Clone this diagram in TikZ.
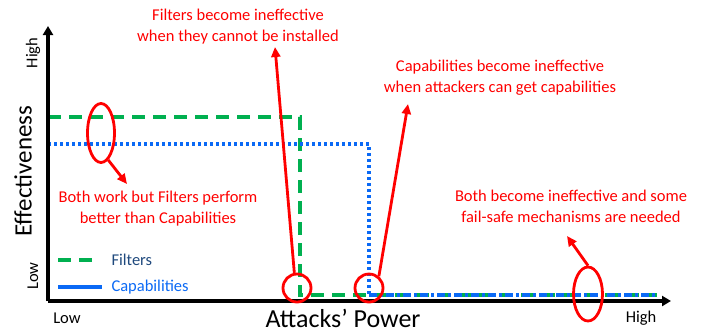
\documentclass[tikz,border=0pt]{standalone}
\usepackage{fontspec}
\setmainfont{Carlito}
\usetikzlibrary{arrows.meta,shapes.geometric}
\definecolor{fgreen}{RGB}{0,176,80}
\definecolor{cblue}{RGB}{10,105,245}
\definecolor{lblue}{RGB}{31,73,125}
\tikzset{
  axis/.style={line width=3.6pt,-{Triangle[length=9pt,width=10pt]}},
  filterline/.style={fgreen,line width=3.2pt,dash pattern=on 13pt off 8pt},
  capline/.style={cblue,line width=3.2pt,dash pattern=on 3pt off 3pt},
  capbottom/.style={cblue,line width=3.2pt,dash pattern=on 8pt off 3pt on 3pt off 3pt},
  mark ring/.style={draw=red,line width=2.8pt,ellipse,inner sep=0pt},
  note/.style={red,font=\fontsize{16.5}{21}\selectfont,align=center},
  pointer/.style={red,line width=2.8pt,-{Triangle[length=10pt,width=9pt]}},
  tick/.style={font=\fontsize{16.5}{19}\selectfont}
}
\begin{document}
\begin{tikzpicture}[x=1pt,y=-1pt]
\useasboundingbox (0,0) rectangle (709,333);
\coordinate (o) at (48,301);
\coordinate (ytop) at (48,26);
\coordinate (xend) at (671,301);
\draw[filterline] (48,117) -- (300,117) -- (300,295) -- (657,295);
\draw[capline] (48,144) -- (369,144) -- (369,295);
\draw[capbottom] (369,295) -- (657,295);
\draw[axis] (o) -- (ytop);
\draw[axis] (o) -- (xend);
\node[tick,rotate=90] (yhigh) at (33,53) {High};
\node[tick,rotate=90] (ylow) at (33,276) {Low};
\node[rotate=90,font=\fontsize{25}{29}\selectfont] (ylab) at (23,171) {Effectiveness};
\node[tick] (xlow) at (67,318) {Low};
\node[tick] (xhigh) at (641,318) {High};
\node[font=\fontsize{26}{30}\selectfont,inner sep=0pt] (xlab) at (343,318) {Attacks’ Power};
\draw[filterline] (58,260) -- (95,260);
\node[tick,lblue,anchor=west] (lfilt) at (108,260) {Filters};
\draw[cblue,line width=3.2pt] (58,287) -- (102,287);
\node[tick,cblue,anchor=west] (lcap) at (108,287) {Capabilities};
\node[mark ring,minimum width=27pt,minimum height=59pt] (r1) at (101,133) {};
\node[mark ring,minimum size=28pt,circle] (r2) at (297,288) {};
\node[mark ring,minimum size=28pt,circle] (r3) at (369,288) {};
\node[mark ring,minimum width=29pt,minimum height=54pt] (r4) at (588,294) {};
\node[note] (n1) at (238,27) {Filters become ineffective\\when they cannot be installed};
\node[note] (n2) at (500,78) {Capabilities become ineffective\\when attackers can get capabilities};
\node[note] (n3) at (158,209) {Both work but Filters perform\\better than Capabilities};
\node[note] (n4) at (571,206) {Both become ineffective and some\\fail-safe mechanisms are needed};
\coordinate (p1) at (275,47);
\coordinate (p2) at (408,104);
\coordinate (p3) at (127,184);
\coordinate (p4) at (567,236);
\draw[pointer] (r2.100) -- (p1);
\draw[pointer] (r3.50) -- (p2);
\draw[pointer] (r1.-75) -- (p3);
\draw[pointer] (r4.north) -- (p4);
\end{tikzpicture}
\end{document}
